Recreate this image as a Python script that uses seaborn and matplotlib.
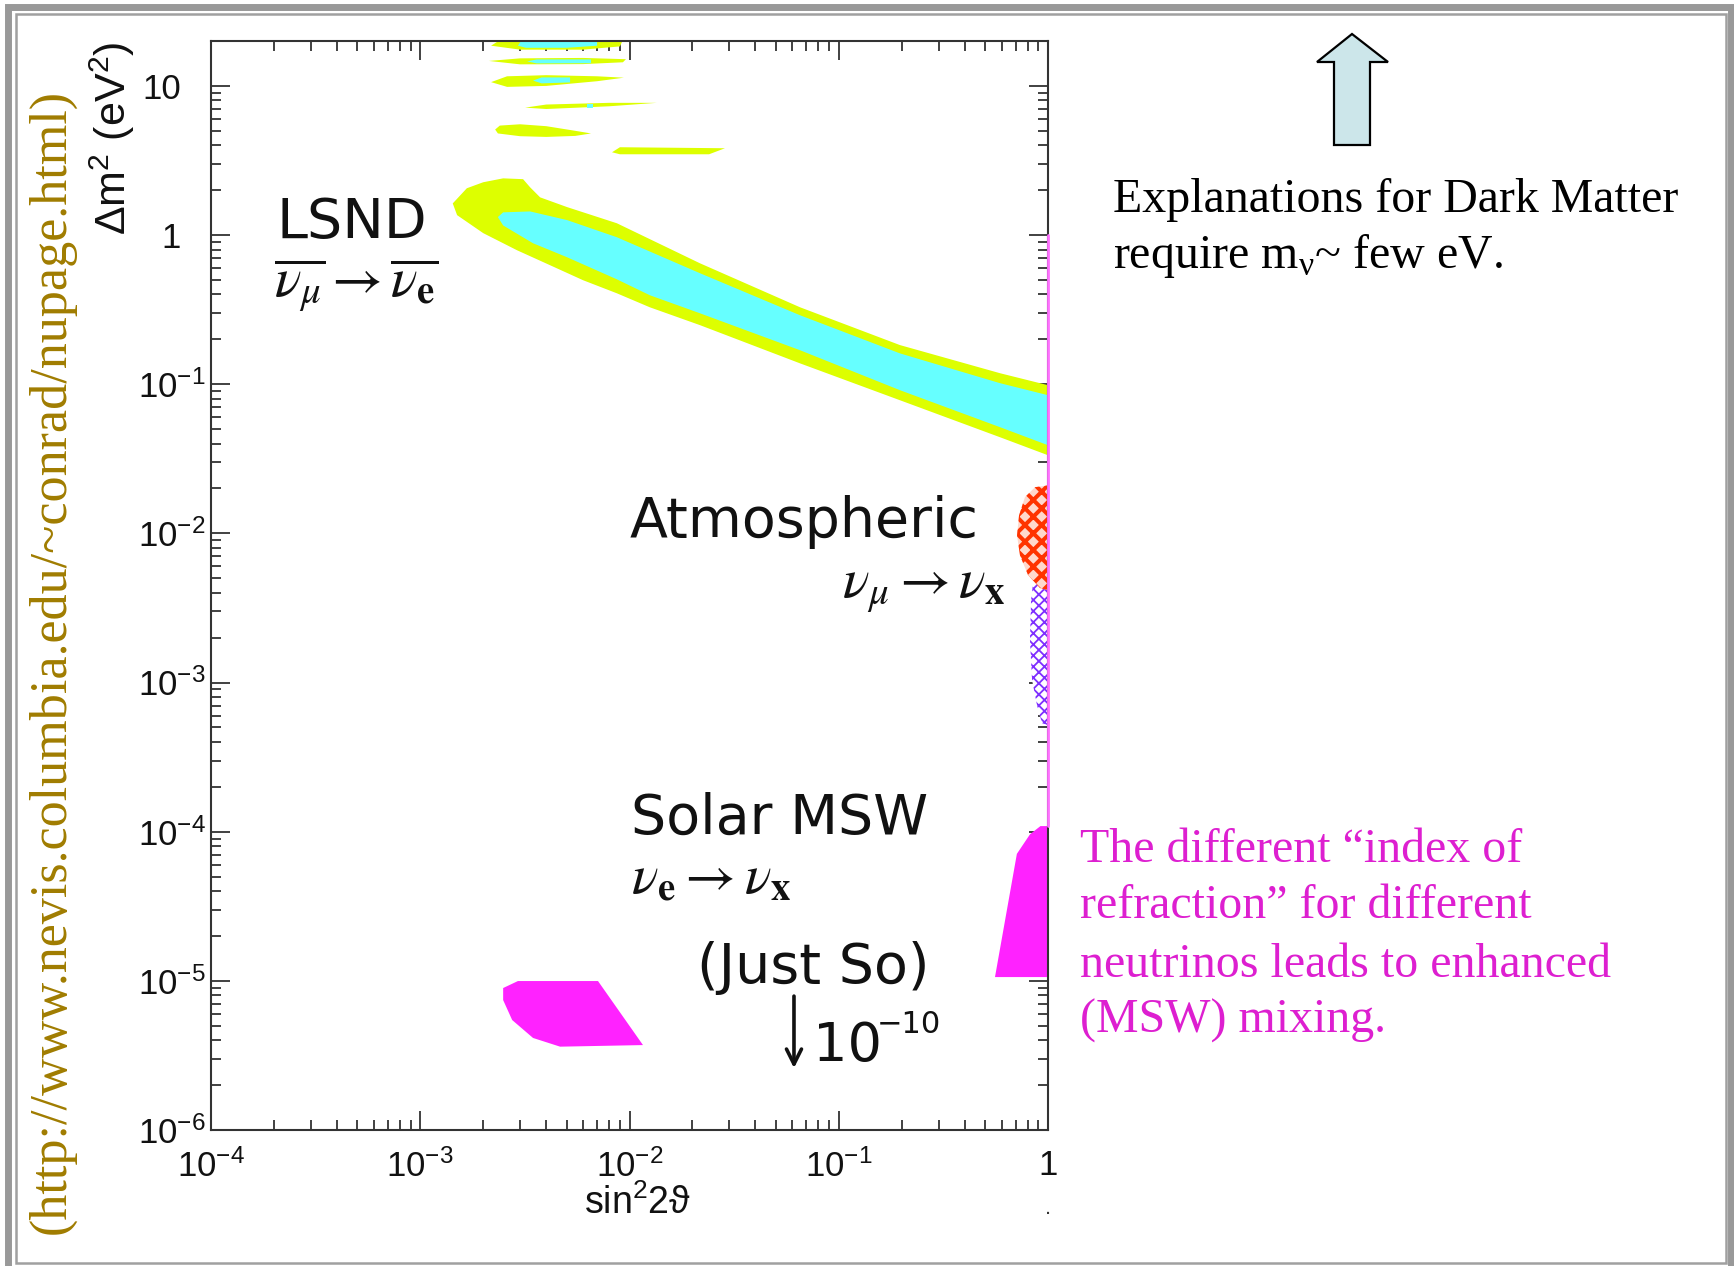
import numpy as np
import matplotlib
matplotlib.use("Agg")
import matplotlib.pyplot as plt
import matplotlib.ticker as mticker
import matplotlib.transforms as mtransforms
from matplotlib.patches import Rectangle, Polygon
import seaborn as sns

# ---------------- data: (sin^2 2theta, delta m^2 [eV^2]) ----------------
# LSND 99% (yellow) main band
lsnd99_x = [1.43e-3, 1.67e-3, 2.0e-3, 2.49e-3, 3.10e-3, 3.35e-3, 3.74e-3, 5.03e-3, 8.7e-3, 0.0217, 0.0653, 0.196, 0.590, 1.0,
            1.0, 0.590, 0.196, 0.0653, 0.0217, 0.0125, 8.7e-3, 6.0e-3, 4.17e-3, 2.9e-3, 2.0e-3, 1.5e-3]
lsnd99_y = [1.63, 2.06, 2.26, 2.40, 2.37, 2.09, 1.79, 1.54, 1.20, 0.647, 0.328, 0.183, 0.1185, 0.0985,
            0.0334, 0.0441, 0.0781, 0.138, 0.249, 0.328, 0.407, 0.498, 0.628, 0.791, 1.03, 1.36]
# LSND 90% (cyan) main band
lsnd90_x = [2.35e-3, 2.49e-3, 3.35e-3, 5.03e-3, 8.7e-3, 0.0217, 0.0653, 0.196, 0.590, 1.0,
            1.0, 0.590, 0.196, 0.0653, 0.0217, 0.0125, 8.7e-3, 5.03e-3, 3.46e-3, 2.49e-3]
lsnd90_y = [1.32, 1.42, 1.44, 1.26, 0.967, 0.555, 0.290, 0.161, 0.1016, 0.0844,
            0.0390, 0.0515, 0.0912, 0.169, 0.299, 0.395, 0.505, 0.710, 0.881, 1.16]
# LSND high-dm2 islands (yellow)
isl99_x = [[2.18e-3, 2.5e-3, 9.4e-3, 9.0e-3, 6.0e-3, 3.0e-3],
           [2.13e-3, 3.0e-3, 6.0e-3, 9.62e-3, 9.3e-3, 6.0e-3, 3.0e-3],
           [2.18e-3, 2.6e-3, 4.0e-3, 7.0e-3, 9.4e-3, 7.0e-3, 4.0e-3, 2.6e-3],
           [3.17e-3, 4.0e-3, 8.0e-3, 0.0135, 8.0e-3, 4.0e-3],
           [2.28e-3, 2.4e-3, 3.0e-3, 4.0e-3, 5.5e-3, 6.55e-3, 5.5e-3, 4.0e-3, 3.0e-3, 2.35e-3],
           [8.25e-3, 9.0e-3, 0.0286, 0.024, 9.0e-3]]
isl99_y = [[18.6, 21.0, 21.0, 18.4, 17.5, 17.5],
           [14.7, 15.3, 15.4, 15.1, 14.4, 14.0, 13.95],
           [10.6, 11.6, 11.8, 11.6, 11.35, 10.75, 10.0, 9.85],
           [7.15, 7.5, 7.7, 7.7, 7.3, 7.0],
           [5.1, 5.42, 5.53, 5.37, 5.0, 4.8, 4.62, 4.55, 4.6, 4.8],
           [3.59, 3.88, 3.82, 3.48, 3.48]]
# LSND high-dm2 islands (cyan cores)
isl90_x = [[2.93e-3, 3.1e-3, 7.0e-3, 7.0e-3, 5.0e-3, 3.2e-3],
           [3.24e-3, 3.6e-3, 6.55e-3, 6.55e-3, 3.6e-3],
           [3.46e-3, 3.8e-3, 5.2e-3, 5.2e-3, 3.8e-3],
           [6.26e-3, 6.69e-3, 6.69e-3, 6.26e-3]]
isl90_y = [[18.6, 21.0, 21.0, 18.6, 18.0, 18.0],
           [14.6, 15.05, 15.05, 14.2, 14.15],
           [10.85, 11.4, 11.4, 10.55, 10.4],
           [7.6, 7.6, 7.15, 7.15]]
# Atmospheric allowed regions
atm_red_x = [1.0, 0.867, 0.776, 0.727, 0.711, 0.735, 0.803, 0.916, 1.0]
atm_red_y = [0.0210, 0.0204, 0.0175, 0.0132, 9.7e-3, 7.1e-3, 5.25e-3, 4.3e-3, 4.16e-3]
atm_pur_x = [1.0, 0.916, 0.857, 0.830, 0.820, 0.839, 0.886, 0.936, 1.0]
atm_pur_y = [6.6e-3, 6.3e-3, 5.25e-3, 3.57e-3, 1.92e-3, 1.04e-3, 7.05e-4, 5.34e-4, 5.18e-4]
# Solar MSW regions
sol_small_x = [2.49e-3, 2.93e-3, 7.07e-3, 0.0116, 4.66e-3, 3.46e-3, 2.75e-3, 2.49e-3]
sol_small_y = [8.95e-6, 9.97e-6, 9.97e-6, 3.71e-6, 3.62e-6, 4.14e-6, 5.46e-6, 7.43e-6]
sol_large_x = [0.558, 1.0, 1.0, 0.92, 0.82, 0.71]
sol_large_y = [1.06e-5, 1.06e-5, 1.09e-4, 1.09e-4, 9.6e-5, 7.1e-5]
# thin magenta line along sin^2 2theta = 1
edge_line_x = [1.0, 1.0]
edge_line_y = [0.997, 1.09e-4]

x_limits = [1e-4, 1.0]
y_limits = [1e-6, 20.0]
plain_y_labels = {1.0: "1", 10.0: "10"}

# ---------------- style ----------------
sns.set_theme(style="ticks")
plt.rcParams["font.family"] = ["Liberation Sans", "DejaVu Sans"]
plt.rcParams["mathtext.fontset"] = "dejavusans"
plt.rcParams["axes.facecolor"] = "white"
plt.rcParams["figure.facecolor"] = "white"

W, H = 1734, 1266
fig = plt.figure(figsize=(W / 100, H / 100), dpi=100)


def fx(px):
    return px / W


def fy(py):
    return 1 - py / H


ax = fig.add_axes([211 / W, 1 - 1130 / H, 837 / W, 1089 / H])
ax.set_xscale("log")
ax.set_yscale("log")
ax.set_xlim(*x_limits)
ax.set_ylim(*y_limits)

YEL = "#DDFF00"
CYA = "#66FFFF"
MAG = "#FF22FF"

ax.fill(lsnd99_x, lsnd99_y, color=YEL, lw=0, zorder=1)
ax.fill(lsnd90_x, lsnd90_y, color=CYA, lw=0, zorder=1.1)
for xs, ys in zip(isl99_x, isl99_y):
    ax.fill(xs, ys, color=YEL, lw=0, zorder=1)
for xs, ys in zip(isl90_x, isl90_y):
    ax.fill(xs, ys, color=CYA, lw=0, zorder=1.1)

plt.rcParams["hatch.linewidth"] = 1.3
ax.fill(atm_pur_x, atm_pur_y, facecolor="white", edgecolor="#7F2FFF", hatch="xxx", lw=0, zorder=1.2)
plt.rcParams["hatch.linewidth"] = 2.9
ax.fill(atm_red_x, atm_red_y, facecolor="#FFD8CC", edgecolor="#FF3300", hatch="xx", lw=0, zorder=1.3)
plt.rcParams["hatch.linewidth"] = 1.9

ax.fill(sol_small_x, sol_small_y, color=MAG, lw=0, zorder=1)
ax.fill(sol_large_x, sol_large_y, color=MAG, lw=0, zorder=1)
sns.lineplot(x=edge_line_x, y=edge_line_y, ax=ax, color="#FF70FF", lw=2.0, sort=False,
             estimator=None, zorder=5, clip_on=False)

# ---------------- axes & ticks ----------------
for s in ax.spines.values():
    s.set_color("#333333")
    s.set_linewidth(1.5)

ax.xaxis.set_major_locator(mticker.LogLocator(base=10, numticks=20))
ax.yaxis.set_major_locator(mticker.LogLocator(base=10, numticks=20))
ax.xaxis.set_minor_locator(mticker.LogLocator(base=10, subs=np.arange(2, 10), numticks=40))
ax.yaxis.set_minor_locator(mticker.LogLocator(base=10, subs=np.arange(2, 10), numticks=40))
ax.xaxis.set_minor_formatter(mticker.NullFormatter())
ax.yaxis.set_minor_formatter(mticker.NullFormatter())


def xfmt(v, pos):
    e = int(round(np.log10(v)))
    if e == 0:
        return "1"
    return r"$\mathregular{10^{%d}}$" % e


def yfmt(v, pos):
    e = int(round(np.log10(v)))
    if e in (0, 1):
        return ""
    return r"$\mathregular{10^{%d}}$" % e


ax.xaxis.set_major_formatter(mticker.FuncFormatter(xfmt))
ax.yaxis.set_major_formatter(mticker.FuncFormatter(yfmt))
ax.tick_params(which="both", direction="in", top=True, right=True, colors="#333333")
ax.tick_params(which="major", length=14, width=1.3, labelsize=25)
ax.tick_params(which="minor", length=7, width=1.3)
ax.tick_params(axis="x", which="major", pad=14)
ax.tick_params(axis="y", which="major", pad=4)
for lab in ax.get_xticklabels() + ax.get_yticklabels():
    lab.set_color("#111111")

# plain "1" and "10" labels sit further from the axis, as in the original
ylab_trans = mtransforms.blended_transform_factory(ax.transAxes, ax.transData)
for val, txt in plain_y_labels.items():
    ax.text(-0.036, val, txt, transform=ylab_trans, ha="right", va="center_baseline",
            fontsize=25, color="#111111")
# small stray dot under the "1" label of the x axis
ax.text(1.0, -0.072, ".", transform=mtransforms.blended_transform_factory(ax.transData, ax.transAxes),
        ha="center", va="center", fontsize=16, color="#333333")

ax.set_xlabel(r"sin$^\mathregular{2}$2ϑ", fontsize=27, color="#111111")
ax.xaxis.set_label_coords(0.51, -0.05)
ax.set_ylabel(r"Δm$^\mathregular{2}$ (eV$^\mathregular{2}$)", fontsize=31, color="#111111")
ax.yaxis.set_label_coords(-0.088, 0.911)

# ---------------- annotations inside the plot ----------------
big = dict(family="DejaVu Sans", fontsize=40, color="#111111", va="baseline", ha="left")
nu = dict(fontsize=40, color="#111111", va="baseline", ha="left", math_fontfamily="stix")
ax.text(2.045e-4, 0.952, "LSND", **big)
ax.text(2.0e-4, 0.383, r"$\overline{\nu_\mu}\rightarrow\overline{\nu_\mathbf{e}}$", **nu)
ax.text(0.01006, 9.43e-3, "Atmospheric", **big)
ax.text(0.1036, 3.74e-3, r"$\nu_\mu\rightarrow\nu_\mathbf{x}$", **nu)
ax.text(0.0102, 9.63e-5, "Solar MSW", **big)
ax.text(0.0102, 3.88e-5, r"$\nu_\mathbf{e}\rightarrow\nu_\mathbf{x}$", **nu)
ax.text(0.021, 9.67e-6, "(Just So)", **big)
ax.annotate("", xy=(0.0611, 2.6e-6), xytext=(0.0611, 7.9e-6),
            arrowprops=dict(arrowstyle="->,head_length=0.9,head_width=0.45", lw=2.6, color="#111111",
                            shrinkA=0, shrinkB=0))
ax.text(0.0753, 2.9e-6, "10", family="DejaVu Sans", fontsize=39, color="#111111", va="baseline", ha="left")
ax.text(0.1523, 4.5e-6, "\u221210", family="DejaVu Sans", fontsize=22, color="#111111",
        va="baseline", ha="left")

# ---------------- slide elements outside the plot ----------------
serif = "Liberation Serif"
fig.text(fx(52), fy(662), "(http://www.nevis.columbia.edu/~conrad/nupage.html)", rotation=90,
         ha="center", va="center", family=serif, fontsize=37.5, color="#A07C00")

fig.text(fx(1113), fy(212), "Explanations for Dark Matter", family=serif, fontsize=34.5,
         color="black", ha="left", va="baseline")
fig.text(fx(1113), fy(268), r"require m$_\mathregular{ν}$~ few eV.", family=serif, fontsize=34.5,
         color="black", ha="left", va="baseline")

mag_lines = ["The different \u201cindex of", "refraction\u201d for different",
             "neutrinos leads to enhanced", "(MSW) mixing."]
for line, base in zip(mag_lines, [862, 918, 977, 1033]):
    fig.text(fx(1080), fy(base), line, family=serif, fontsize=34.5, color="#DD1FD0",
             ha="left", va="baseline")

arrow_px = [(1334, 145), (1334, 62), (1317, 62), (1352, 34), (1388, 62), (1370, 62), (1370, 145)]
fig.patches.append(Polygon([(fx(a), fy(b)) for a, b in arrow_px], closed=True,
                           transform=fig.transFigure, facecolor="#CCE6EA", edgecolor="black", lw=1.6))

# slide frame
fig.patches.append(Rectangle((fx(7.5), fy(1275)), fx(1731) - fx(7.5), fy(6.5) - fy(1275),
                             transform=fig.transFigure, fill=False, edgecolor="#999999", lw=5.0))
fig.patches.append(Rectangle((fx(15.5), fy(1262.5)), fx(1725.5) - fx(15.5), fy(13.5) - fy(1262.5),
                             transform=fig.transFigure, fill=False, edgecolor="#A0A0A0", lw=1.8))

fig.savefig("out.png", dpi=100, facecolor="white")
